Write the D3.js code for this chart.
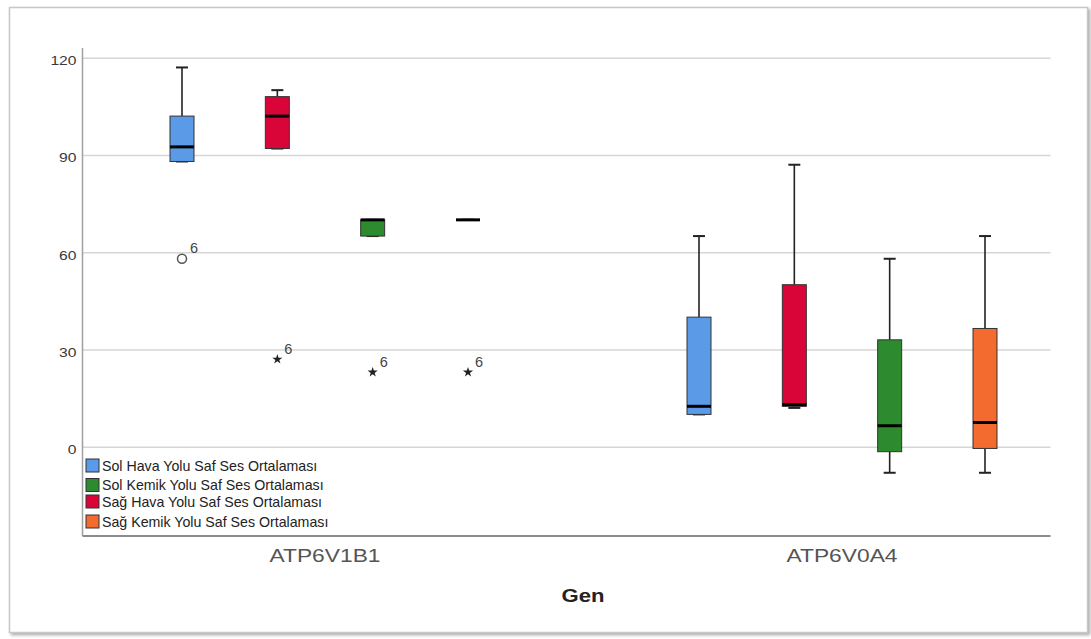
<!DOCTYPE html>
<html>
<head>
<meta charset="utf-8">
<script src="https://cdn.jsdelivr.net/npm/d3@7"></script>
<style>
  body { margin: 0; background: #fff; }
  svg { display: block; font-family: Arial, "Liberation Sans", sans-serif; }
</style>
</head>
<body>
<script>
const W = 1091, H = 639;

// categories and series
const genes = ["ATP6V1B1", "ATP6V0A4"];
const legendNames = ["Sol Hava Yolu Saf Ses Ortalaması", "Sol Kemik Yolu Saf Ses Ortalaması",
                     "Sağ Hava Yolu Saf Ses Ortalaması", "Sağ Kemik Yolu Saf Ses Ortalaması"];
const plotOrder = ["Sol Hava Yolu Saf Ses Ortalaması", "Sağ Hava Yolu Saf Ses Ortalaması",
                   "Sol Kemik Yolu Saf Ses Ortalaması", "Sağ Kemik Yolu Saf Ses Ortalaması"];
const seriesColors = ["#5a9ae6", "#2e8a2e", "#d90538", "#f36b2f"];

// box stats per gene: [whisker low, Q1, median, Q3, whisker high]
const solHava   = [[88, 88, 92.5, 102, 117], [10, 10, 12.5, 40, 65]];
const solKemik  = [[65, 65, 70, 70, 70],     [-8, -1.5, 6.5, 33, 58]];
const sagHava   = [[92, 92, 102, 108, 110],  [12, 12.5, 13, 50, 87]];
const sagKemik  = [[70, 70, 70, 70, 70],     [-8, -0.5, 7.5, 36.5, 65]];
const boxStats = [solHava, solKemik, sagHava, sagKemik];

// outliers (case 6)
const outlierGene   = ["ATP6V1B1", "ATP6V1B1", "ATP6V1B1", "ATP6V1B1"];
const outlierSeries = [0, 2, 1, 3];
const outlierValue  = [58, 27, 23, 23];
const outlierType   = ["circle", "star", "star", "star"];
const outlierLabel  = ["6", "6", "6", "6"];

const yTicks = [0, 30, 60, 90, 120];

const svg = d3.select("body").append("svg").attr("width", W).attr("height", H);

// outer frame with shadow
const defs = svg.append("defs");
const f = defs.append("filter").attr("id", "sh").attr("x", "-5%").attr("y", "-5%").attr("width", "110%").attr("height", "110%");
f.append("feDropShadow").attr("dx", 2).attr("dy", 2).attr("stdDeviation", 1.6).attr("flood-color", "#999").attr("flood-opacity", 0.8);
svg.append("rect").attr("x", 9.5).attr("y", 7.5).attr("width", 1078).attr("height", 625)
  .attr("fill", "#fff").attr("stroke", "#c8c8c8").attr("stroke-width", 1.5).attr("filter", "url(#sh)");

const pLeft = 82.5, pRight = 1050.5, pTop = 48, pBottom = 536;

const y = d3.scaleLinear().domain([-27.5, 123]).range([pBottom, pTop]);
const x = d3.scalePoint().domain(genes).range([325, 842]);
const xs = d3.scalePoint().domain(plotOrder).range([-143, 143]);
const color = d3.scaleOrdinal().domain(legendNames).range(seriesColors);
const boxW = 24, capW = 12;

// y grid + labels
const yAxis = d3.axisLeft(y).tickValues(yTicks).tickSize(-(pRight - pLeft)).tickPadding(6);
const gy = svg.append("g").attr("transform", `translate(${pLeft},0)`).call(yAxis);
gy.select(".domain").remove();
gy.selectAll(".tick line").attr("stroke", "#d6d6d6").attr("stroke-width", 1.5);
gy.selectAll(".tick text").attr("fill", "#3a3a3a").attr("font-size", 12.5).attr("dy", "0.55em")
  .attr("textLength", d => String(d).length * 8.7).attr("lengthAdjust", "spacingAndGlyphs");

// axis lines
svg.append("line").attr("x1", pLeft).attr("x2", pLeft).attr("y1", pTop).attr("y2", pBottom)
  .attr("stroke", "#a0a0a0").attr("stroke-width", 1.5);
svg.append("line").attr("x1", pLeft).attr("x2", pRight).attr("y1", pBottom).attr("y2", pBottom)
  .attr("stroke", "#8c8c8c").attr("stroke-width", 2);

// boxes
const rows = [];
genes.forEach((g, gi) => {
  legendNames.forEach((s, si) => {
    const st = boxStats[si][gi];
    rows.push({gene: g, series: s, lo: st[0], q1: st[1], med: st[2], q3: st[3], hi: st[4]});
  });
});

const box = svg.append("g").selectAll("g").data(rows).join("g")
  .attr("transform", d => `translate(${x(d.gene) + xs(d.series)},0)`);

// whiskers
box.filter(d => d.hi > d.q3).append("line")
  .attr("y1", d => y(d.q3)).attr("y2", d => y(d.hi)).attr("stroke", "#222").attr("stroke-width", 1.6);
box.filter(d => d.lo < d.q1).append("line")
  .attr("y1", d => y(d.q1)).attr("y2", d => y(d.lo)).attr("stroke", "#222").attr("stroke-width", 1.6);
box.append("line").attr("x1", -capW / 2).attr("x2", capW / 2)
  .attr("y1", d => y(d.hi)).attr("y2", d => y(d.hi)).attr("stroke", "#222").attr("stroke-width", 2);
box.append("line").attr("x1", -capW / 2).attr("x2", capW / 2)
  .attr("y1", d => y(d.lo)).attr("y2", d => y(d.lo)).attr("stroke", "#222").attr("stroke-width", 2);

box.append("rect").attr("x", -boxW / 2).attr("width", boxW)
  .attr("y", d => y(d.q3)).attr("height", d => y(d.q1) - y(d.q3))
  .attr("fill", d => color(d.series)).attr("stroke", "#333").attr("stroke-width", 1);
box.append("line").attr("x1", -boxW / 2).attr("x2", boxW / 2)
  .attr("y1", d => y(d.med)).attr("y2", d => y(d.med)).attr("stroke", "#000").attr("stroke-width", 3);

// outliers
const outs = outlierValue.map((v, i) => ({
  cx: x(outlierGene[i]) + xs(legendNames[outlierSeries[i]]), cy: y(v), type: outlierType[i], label: outlierLabel[i]
}));
const og = svg.append("g").selectAll("g").data(outs).join("g").attr("transform", d => `translate(${d.cx},${d.cy})`);
og.filter(d => d.type === "circle").append("circle").attr("r", 4.5).attr("fill", "none")
  .attr("stroke", "#555").attr("stroke-width", 1.5);
og.filter(d => d.type === "star").append("path").attr("d", d3.symbol(d3.symbolStar, 32)).attr("fill", "#222");
og.append("text").attr("x", d => d.type === "circle" ? 8 : 7).attr("y", -5.5)
  .attr("font-size", 14.5).attr("fill", "#444").text(d => d.label);

// category labels
svg.append("g").selectAll("text").data(genes).join("text")
  .attr("x", d => x(d)).attr("y", 562).attr("text-anchor", "middle")
  .attr("font-size", 18.5).attr("fill", "#555")
  .attr("textLength", 111).attr("lengthAdjust", "spacingAndGlyphs").text(d => d);

svg.append("text").attr("x", 583).attr("y", 601.5).attr("text-anchor", "middle")
  .attr("font-size", 18).attr("font-weight", "bold").attr("fill", "#222")
  .attr("textLength", 43).attr("lengthAdjust", "spacingAndGlyphs").text("Gen");

// legend
const legendRowY = [459, 478.5, 495, 515];
const lg = svg.append("g").selectAll("g").data(legendNames).join("g")
  .attr("transform", (d, i) => `translate(86,${legendRowY[i]})`);
lg.append("rect").attr("width", 13).attr("height", 13).attr("fill", d => color(d))
  .attr("stroke", "#333").attr("stroke-width", 1);
lg.append("text").attr("x", 16).attr("y", 11.5).attr("font-size", 14.2).attr("fill", "#222").text(d => d);
</script>
</body>
</html>
